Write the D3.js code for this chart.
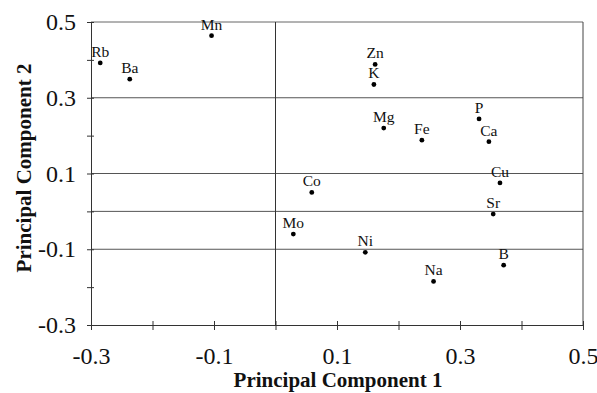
<!DOCTYPE html>
<html>
<head>
<meta charset="utf-8">
<script src="https://cdn.jsdelivr.net/npm/d3@7"></script>
<style>
  body { margin: 0; background: #fff; }
  text { font-family: "Liberation Serif", "Times New Roman", serif; }
</style>
</head>
<body>
<script>
const w = 597;
const h = 393;

// loadings
const elements = ["Rb", "Ba", "Mn", "Zn", "K", "Mg", "Fe", "P", "Ca", "Cu", "Co", "Sr", "Mo", "Ni", "Na", "B"];
const pc1 = [-0.285, -0.237, -0.104, 0.162, 0.160, 0.176, 0.238, 0.331, 0.347, 0.365, 0.059, 0.354, 0.029, 0.146, 0.257, 0.371];
const pc2 = [0.392, 0.349, 0.464, 0.388, 0.335, 0.220, 0.188, 0.244, 0.184, 0.075, 0.050, -0.007, -0.060, -0.108, -0.185, -0.142];

const tickVals = [-0.3, -0.2, -0.1, 0, 0.1, 0.2, 0.3, 0.4, 0.5];
const labelVals = [-0.3, -0.1, 0.1, 0.3, 0.5];
const gridVals = [0.3, 0.1, 0, -0.1];

const margin = {left: 91, right: 14, top: 22, bottom: 68};

let svg = d3.select("body")
  .append("svg")
  .attr("width", w)
  .attr("height", h);

var x = d3.scaleLinear().domain([-0.3, 0.5]).range([margin.left, w - margin.right]);
var y = d3.scaleLinear().domain([-0.3, 0.5]).range([h - margin.bottom, margin.top]);

function fmt(d) {
  // hyphen, like the original, not the unicode minus
  var lab = labelVals.find(v => Math.abs(v - d) < 1e-9);
  return lab === undefined ? "" : String(lab);
}

// horizontal grid lines + zero line
svg.append("g")
  .selectAll("line")
  .data(gridVals)
  .join("line")
  .attr("x1", x(-0.3))
  .attr("x2", x(0.5))
  .attr("y1", d => y(d))
  .attr("y2", d => y(d))
  .attr("stroke", "#555")
  .attr("stroke-width", 1);

// frame: top and right
svg.append("line")
  .attr("x1", x(-0.3)).attr("x2", x(0.5))
  .attr("y1", y(0.5)).attr("y2", y(0.5))
  .attr("stroke", "#666");
svg.append("line")
  .attr("x1", x(0.5)).attr("x2", x(0.5))
  .attr("y1", y(0.5)).attr("y2", y(-0.3))
  .attr("stroke", "#444");

// vertical zero line
svg.append("line")
  .attr("x1", x(0)).attr("x2", x(0))
  .attr("y1", y(0.5)).attr("y2", y(-0.3))
  .attr("stroke", "#333");

var xAxis = svg.append("g")
  .attr("transform", "translate(0," + y(-0.3) + ")")
  .call(d3.axisBottom(x).tickValues(tickVals).tickFormat(fmt).tickSizeOuter(0).tickPadding(16));
xAxis.select(".domain").attr("stroke", "#333");
xAxis.selectAll(".tick line").attr("y1", -4).attr("y2", 5).attr("stroke", "#333");
xAxis.selectAll(".tick text")
  .attr("font-size", 24)
  .attr("font-family", "Liberation Serif")
  .attr("fill", "#111");

var yAxis = svg.append("g")
  .attr("transform", "translate(" + x(-0.3) + ",0)")
  .call(d3.axisLeft(y).tickValues(tickVals).tickFormat(fmt).tickSizeOuter(0).tickPadding(9));
yAxis.select(".domain").attr("stroke", "#333");
yAxis.selectAll(".tick line").attr("x1", -4).attr("x2", 3).attr("stroke", "#333");
yAxis.selectAll(".tick text")
  .attr("font-size", 24)
  .attr("font-family", "Liberation Serif")
  .attr("fill", "#111");

// points
var pts = elements.map((e, i) => ({name: e, a: pc1[i], b: pc2[i]}));

svg.append("g")
  .selectAll("circle")
  .data(pts)
  .join("circle")
  .attr("cx", d => x(d.a))
  .attr("cy", d => y(d.b))
  .attr("r", 2.4)
  .attr("fill", "#000");

svg.append("g")
  .selectAll("text")
  .data(pts)
  .join("text")
  .attr("x", d => x(d.a))
  .attr("y", d => y(d.b) - 6)
  .attr("text-anchor", "middle")
  .attr("font-size", 15.5)
  .attr("fill", "#111")
  .text(d => d.name);

// axis titles
svg.append("text")
  .attr("x", 338)
  .attr("y", 387)
  .attr("text-anchor", "middle")
  .attr("font-size", 21)
  .attr("font-weight", "bold")
  .attr("fill", "#111")
  .text("Principal Component 1");

svg.append("text")
  .attr("transform", "translate(31,168) rotate(-90)")
  .attr("text-anchor", "middle")
  .attr("font-size", 21)
  .attr("font-weight", "bold")
  .attr("fill", "#111")
  .text("Principal Component 2");
</script>
</body>
</html>
